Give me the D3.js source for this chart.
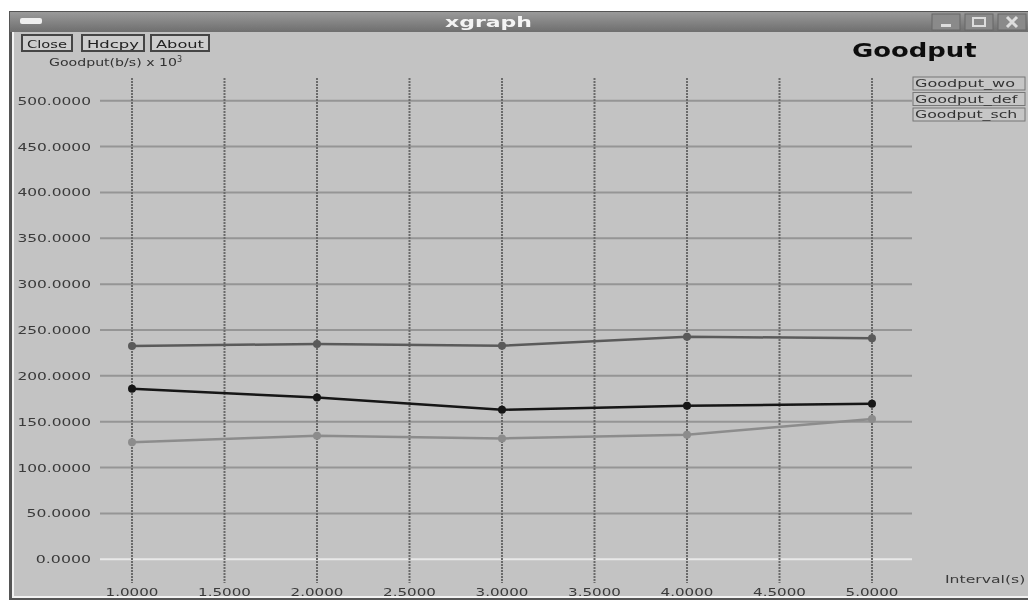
<!DOCTYPE html>
<html>
<head>
<meta charset="utf-8">
<script src="https://cdn.jsdelivr.net/npm/d3@7"></script>
<style>
  body { margin:0; background:#fff; }
  svg text { font-family: "DejaVu Sans", sans-serif; }
</style>
</head>
<body>
<svg id="chart" width="1028" height="600"></svg>
<script>
// ----- data
var intervals = [1, 2, 3, 4, 5];
var goodputWo  = [232.5, 234.8, 232.8, 242.6, 241.0];
var goodputDef = [185.9, 176.4, 163.0, 167.4, 169.6];
var goodputSch = [127.5, 134.8, 131.8, 135.9, 152.9];
var seriesNames = ["Goodput_wo", "Goodput_def", "Goodput_sch"];
var xTicks = [1, 1.5, 2, 2.5, 3, 3.5, 4, 4.5, 5];
var yTicks = [0, 50, 100, 150, 200, 250, 300, 350, 400, 450, 500];
var buttons = ["Close", "Hdcpy", "About"];

var colors = ["#5a5a5a", "#151515", "#8c8c8c"];

var svg = d3.select("#chart");

// stretch text the way the old X fonts look (wide glyphs)
function wide(sel, perChar) {
  sel.each(function () {
    var n = this.textContent.length;
    d3.select(this).attr("textLength", n * perChar).attr("lengthAdjust", "spacingAndGlyphs");
  });
  return sel;
}

//--------------------------------- window frame
var defs = svg.append("defs");
var grad = defs.append("linearGradient").attr("id", "tbar").attr("x1", 0).attr("y1", 0).attr("x2", 0).attr("y2", 1);
grad.append("stop").attr("offset", "0%").attr("stop-color", "#9a9a9a");
grad.append("stop").attr("offset", "100%").attr("stop-color", "#6e6e6e");
defs.append("filter").attr("id", "soft")
    .append("feGaussianBlur").attr("stdDeviation", 0.6);

var root = svg.append("g").attr("filter", "url(#soft)");

root.append("rect").attr("x", 9).attr("y", 11).attr("width", 1019).attr("height", 589).attr("fill", "#555");
root.append("rect").attr("x", 12).attr("y", 32).attr("width", 1016).attr("height", 566).attr("fill", "#f2f2f2");
root.append("rect").attr("x", 14).attr("y", 32).attr("width", 1014).attr("height", 564).attr("fill", "#c3c3c3");
root.append("rect").attr("x", 10).attr("y", 12).attr("width", 1018).attr("height", 20).attr("fill", "url(#tbar)");

// window menu icon
root.append("rect").attr("x", 20).attr("y", 18).attr("width", 22).attr("height", 6).attr("rx", 2).attr("fill", "#eee");
wide(root.append("text").attr("x", 445).attr("y", 27)
    .attr("fill", "#f4f4f4").style("font-size", "14px").style("font-weight", "bold")
    .text("xgraph"), 14.5);

// title bar buttons
[[932, "min"], [965, "max"], [998, "close"]].forEach(function (b) {
  var g = root.append("g").attr("transform", "translate(" + b[0] + ",14)");
  g.append("rect").attr("width", 28).attr("height", 16).attr("fill", "#8a8a8a").attr("stroke", "#666");
  if (b[1] === "min") g.append("rect").attr("x", 9).attr("y", 10).attr("width", 10).attr("height", 3).attr("fill", "#ddd");
  if (b[1] === "max") g.append("rect").attr("x", 8).attr("y", 4).attr("width", 12).attr("height", 8).attr("fill", "none").attr("stroke", "#ddd").attr("stroke-width", 2);
  if (b[1] === "close") g.append("path").attr("d", "M9,3L19,13M19,3L9,13").attr("stroke", "#ddd").attr("stroke-width", 3);
});

// xgraph buttons
var bx = [22, 82, 151], bw = [50, 62, 58];
buttons.forEach(function (t, i) {
  root.append("rect").attr("x", bx[i]).attr("y", 35).attr("width", bw[i]).attr("height", 16)
      .attr("fill", "#cdcdcd").attr("stroke", "#444").attr("stroke-width", 2);
  wide(root.append("text").attr("x", bx[i] + 5).attr("y", 47.5)
      .attr("fill", "#222").style("font-size", "11px").text(t), (bw[i] - 10) / t.length);
});

wide(root.append("text").attr("x", 852).attr("y", 57)
    .attr("fill", "#111").style("font-size", "20px").style("font-weight", "bold").text("Goodput"), 17.8);

var ylab = root.append("text").attr("x", 49).attr("y", 66).attr("fill", "#333").style("font-size", "10px");
ylab.append("tspan").attr("textLength", 128).attr("lengthAdjust", "spacingAndGlyphs").text("Goodput(b/s) x 10");
ylab.append("tspan").attr("dy", -4).style("font-size", "8px").text("3");

//--------------------------------- scales
var x = d3.scaleLinear().domain([1, 5]).range([132, 872]);
var y = d3.scaleLinear().domain([0, 500]).range([559.3, 100.7]);

// horizontal grid
root.append("g").selectAll("line").data(yTicks).join("line")
    .attr("x1", 100).attr("x2", 912)
    .attr("y1", function (d) { return y(d); }).attr("y2", function (d) { return y(d); })
    .attr("stroke", function (d) { return d === 0 ? "#e8e8e8" : "#959595"; })
    .attr("stroke-width", 2);

// vertical grid
root.append("g").selectAll("line").data(xTicks).join("line")
    .attr("x1", function (d) { return x(d); }).attr("x2", function (d) { return x(d); })
    .attr("y1", 78).attr("y2", 583)
    .attr("stroke", "#6a6a6a").attr("stroke-width", 2).attr("stroke-dasharray", "2,1");

// tick labels
wide(root.append("g").selectAll("text").data(yTicks).join("text")
    .attr("x", 91).attr("y", function (d) { return y(d) + 4; })
    .attr("text-anchor", "end").attr("fill", "#3a3a3a").style("font-size", "10.5px")
    .text(function (d) { return d3.format(".4f")(d); }), 9.2);

wide(root.append("g").selectAll("text").data(xTicks).join("text")
    .attr("x", function (d) { return x(d); }).attr("y", 596)
    .attr("text-anchor", "middle").attr("fill", "#3a3a3a").style("font-size", "10.5px")
    .text(function (d) { return d3.format(".4f")(d); }), 8.8);

wide(root.append("text").attr("x", 945).attr("y", 583)
    .attr("fill", "#3a3a3a").style("font-size", "10px").text("Interval(s)"), 7.3);

//--------------------------------- series
var allSeries = [goodputWo, goodputDef, goodputSch];
var line = d3.line().x(function (d, i) { return x(intervals[i]); }).y(function (d) { return y(d); });

allSeries.forEach(function (vals, s) {
  root.append("path").datum(vals).attr("d", line)
      .attr("fill", "none").attr("stroke", colors[s]).attr("stroke-width", 2.5);
  root.append("g").selectAll("circle").data(vals).join("circle")
      .attr("cx", function (d, i) { return x(intervals[i]); })
      .attr("cy", function (d) { return y(d); })
      .attr("r", 4).attr("fill", colors[s]);
});

//--------------------------------- legend
seriesNames.forEach(function (n, i) {
  var ly = 77 + i * 15.5;
  root.append("rect").attr("x", 913).attr("y", ly).attr("width", 112).attr("height", 13)
      .attr("fill", "#c6c6c6").attr("stroke", "#777").attr("stroke-width", 1);
  wide(root.append("text").attr("x", 915).attr("y", ly + 10).attr("fill", "#333")
      .style("font-size", "10px").text(n), n.length > 10 ? 9.3 : 10);
});
</script>
</body>
</html>
